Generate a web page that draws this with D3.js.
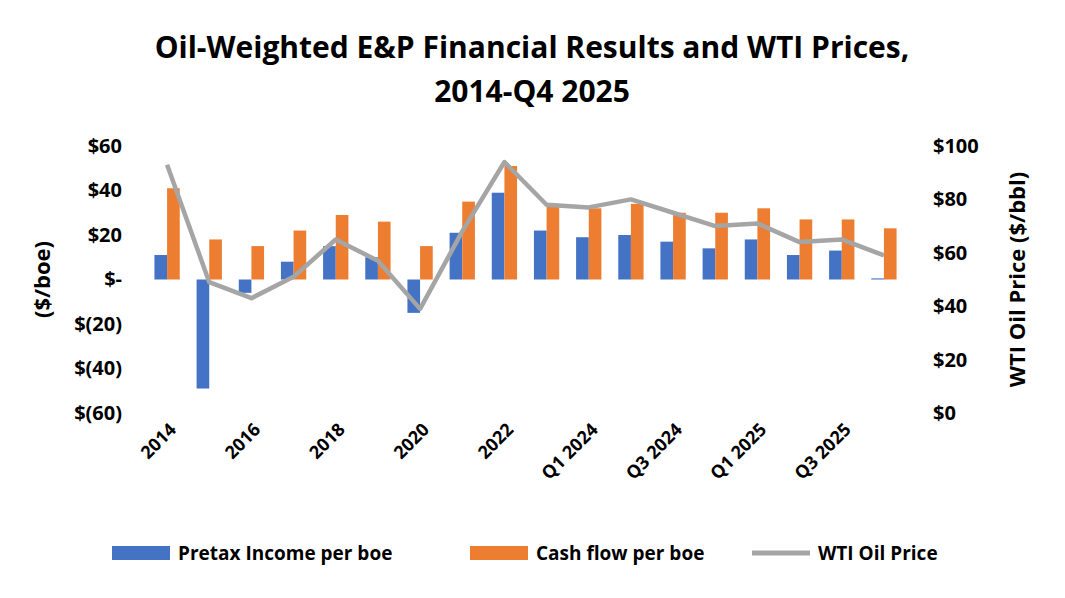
<!DOCTYPE html>
<html><head><meta charset="utf-8">
<script src="https://cdn.jsdelivr.net/npm/d3@7"></script>
<style>
body{margin:0;background:#fff;}
text{font-family:"Open Sans",Calibri,sans-serif;font-weight:bold;fill:#000;}
</style></head>
<body><svg id="chart" width="1065" height="598"></svg>
<script>
var categories = ["2014","2015","2016","2017","2018","2019","2020","2021","2022","2023",
  "Q1 2024","Q2 2024","Q3 2024","Q4 2024","Q1 2025","Q2 2025","Q3 2025","Q4 2025"];
var tickLabels = ["2014","2016","2018","2020","2022","Q1 2024","Q3 2024","Q1 2025","Q3 2025"];
var pretax = [11,-49,-6,8,15,10,-15,21,39,22,19,20,17,14,18,11,13,0.5];
var cashflow = [41,18,15,22,29,26,15,35,51,34,32,34,30,30,32,27,27,23];
var wti = [93,49,43,51,65,57,39,68,94,78,77,80,75,70,71,64,65,59];

var svg = d3.select("#chart"),
    margin = {top: 146, bottom: 185, left: 146, right: 160},
    width = +svg.attr("width") - margin.left - margin.right,
    height = +svg.attr("height") - margin.top - margin.bottom;

var g = svg.append("g").attr("transform", "translate(" + margin.left + "," + margin.top + ")");

var x = d3.scaleBand().domain(categories).range([0, width]).paddingInner(0.4).paddingOuter(0.2);
var x1 = d3.scaleBand().domain(["p","c"]).range([0, x.bandwidth()]);
var y = d3.scaleLinear().domain([-60, 60]).range([height, 0]);
var y2 = d3.scaleLinear().domain([0, 100]).range([height, 0]);

var fmt = function(d) { return d === 0 ? "$-" : d < 0 ? "$(" + (-d) + ")" : "$" + d; };

var yAxis = g.append("g").call(d3.axisLeft(y).tickValues([-60,-40,-20,0,20,40,60]).tickFormat(fmt).tickSize(0).tickPadding(24));
yAxis.select(".domain").remove();
yAxis.selectAll("text").style("font-size", "20px");

var yAxis2 = g.append("g").attr("transform", "translate(" + width + ",0)")
  .call(d3.axisRight(y2).tickValues([0,20,40,60,80,100]).tickFormat(function(d){ return "$" + d; }).tickSize(0).tickPadding(28));
yAxis2.select(".domain").remove();
yAxis2.selectAll("text").style("font-size", "20px");

var cat = g.selectAll(".cat").data(categories).enter().append("g")
  .attr("transform", function(d) { return "translate(" + x(d) + ",0)"; });
cat.append("rect").attr("x", x1("p")).attr("width", x1.bandwidth())
  .attr("y", function(d, i) { return y(Math.max(0, pretax[i])); })
  .attr("height", function(d, i) { return Math.abs(y(pretax[i]) - y(0)); })
  .attr("fill", "#4472c4");
cat.append("rect").attr("x", x1("c")).attr("width", x1.bandwidth())
  .attr("y", function(d, i) { return y(Math.max(0, cashflow[i])); })
  .attr("height", function(d, i) { return Math.abs(y(cashflow[i]) - y(0)); })
  .attr("fill", "#ed7d31");

var line = d3.line().x(function(d, i) { return x(categories[i]) + x.bandwidth() / 2; }).y(function(d) { return y2(d); });
g.append("path").datum(wti).attr("d", line).attr("fill", "none")
  .attr("stroke", "#a5a5a5").attr("stroke-width", 4.5).attr("stroke-linejoin", "round");

var xAxis = g.append("g").attr("transform", "translate(0," + height + ")")
  .call(d3.axisBottom(x).tickValues(tickLabels).tickSize(0).tickPadding(0));
xAxis.select(".domain").remove();
xAxis.selectAll("text").style("font-size", "18px").attr("text-anchor", "end")
  .attr("y", 0).attr("x", 0).attr("dx", "-0.3em").attr("dy", "1.1em").attr("transform", "rotate(-45)");

svg.append("text").attr("x", 532).attr("y", 58).attr("text-anchor", "middle").style("font-size", "30px")
  .text("Oil-Weighted E&P Financial Results and WTI Prices,");
svg.append("text").attr("x", 532).attr("y", 102).attr("text-anchor", "middle").style("font-size", "30px")
  .text("2014-Q4 2025");

svg.append("text").attr("transform", "translate(50," + (margin.top + height / 2) + ") rotate(-90)")
  .attr("text-anchor", "middle").style("font-size", "22px").text("($/boe)");
svg.append("text").attr("transform", "translate(1025," + (margin.top + height / 2) + ") rotate(-90)")
  .attr("text-anchor", "middle").style("font-size", "22px").text("WTI Oil Price ($/bbl)");

var legend = [
  {label: "Pretax Income per boe", color: "#4472c4", x: 112, type: "rect"},
  {label: "Cash flow per boe", color: "#ed7d31", x: 470, type: "rect"},
  {label: "WTI Oil Price", color: "#a5a5a5", x: 752, type: "line"}
];
var lg = svg.selectAll(".lg").data(legend).enter().append("g")
  .attr("transform", function(d) { return "translate(" + d.x + ",553)"; });
lg.filter(function(d){ return d.type === "rect"; }).append("rect")
  .attr("x", 0).attr("y", -7).attr("width", 58).attr("height", 14).attr("fill", function(d){ return d.color; });
lg.filter(function(d){ return d.type === "line"; }).append("line")
  .attr("x1", 0).attr("x2", 58).attr("stroke", function(d){ return d.color; }).attr("stroke-width", 5);
lg.append("text").attr("x", 66).attr("dy", "0.35em").style("font-size", "19px").text(function(d){ return d.label; });
</script></body></html>
